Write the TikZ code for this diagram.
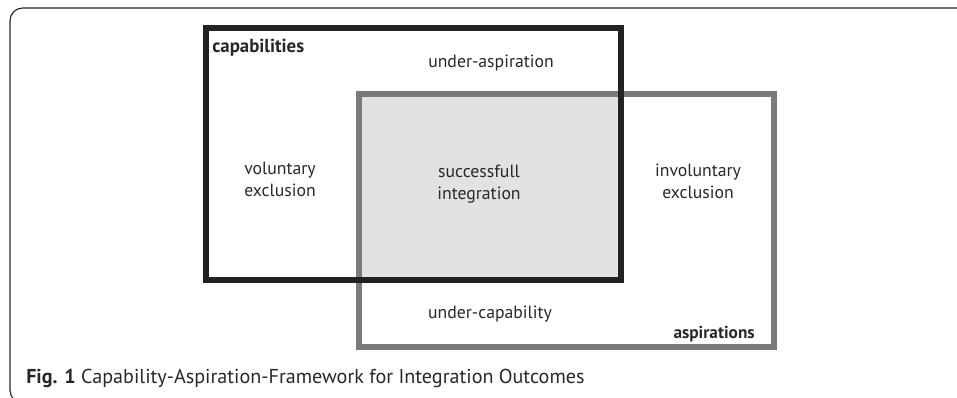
\documentclass[tikz,border=0pt]{standalone}
\usepackage{fontspec}
\setmainfont{PT Sans}
\definecolor{capline}{RGB}{35,33,34}
\definecolor{aspline}{RGB}{122,122,122}
\definecolor{overlap}{RGB}{226,226,226}
\definecolor{txt}{RGB}{40,40,40}
\tikzset{
  lbl/.style={text=txt, inner sep=0pt, align=center, font=\fontsize{12.6}{15.6}\selectfont},
  head/.style={text=txt, inner sep=0pt, font=\fontsize{#1}{15}\selectfont\bfseries},
  box/.style={line width=4.3pt, line join=miter}
}

\begin{document}
\begin{tikzpicture}[x=0.025cm, y=-0.025cm]
\useasboundingbox (0,0) rectangle (957,397);
% frame
\draw[line width=0.8pt, color=black!85, rounded corners=9] (990,8) -- (10,8) -- (10,403) -- (990,403);
% boxes
\fill[overlap] (359,94) rectangle (621,280);
\draw[box, color=aspline] (359,94) rectangle (774,347);
\draw[box, color=capline] (206,28) rectangle (621,280);
% labels
\node (cap)[head=13.4, anchor=base west] at (212,52) {capabilities};
\node (asp)[head=12.3, anchor=base east] at (755,338) {aspirations};
\node (underasp)[lbl, anchor=base] at (491,67) {under-aspiration};
\node (undercap)[lbl, anchor=base] at (490,318) {under-capability};
\node (volex)[lbl, anchor=base] at (280,196) {voluntary\\exclusion};
\node (succ)[lbl, anchor=base] at (479,199) {successfull\\integration};
\node (involex)[lbl, anchor=base] at (698,198) {involuntary\\exclusion};
\node (caption)[text=txt, inner sep=0pt, anchor=base west, font=\fontsize{14.3}{16}\selectfont] at (26,383) {\textbf{Fig. 1} Capability-Aspiration-Framework for Integration Outcomes};
\end{tikzpicture}
\end{document}
